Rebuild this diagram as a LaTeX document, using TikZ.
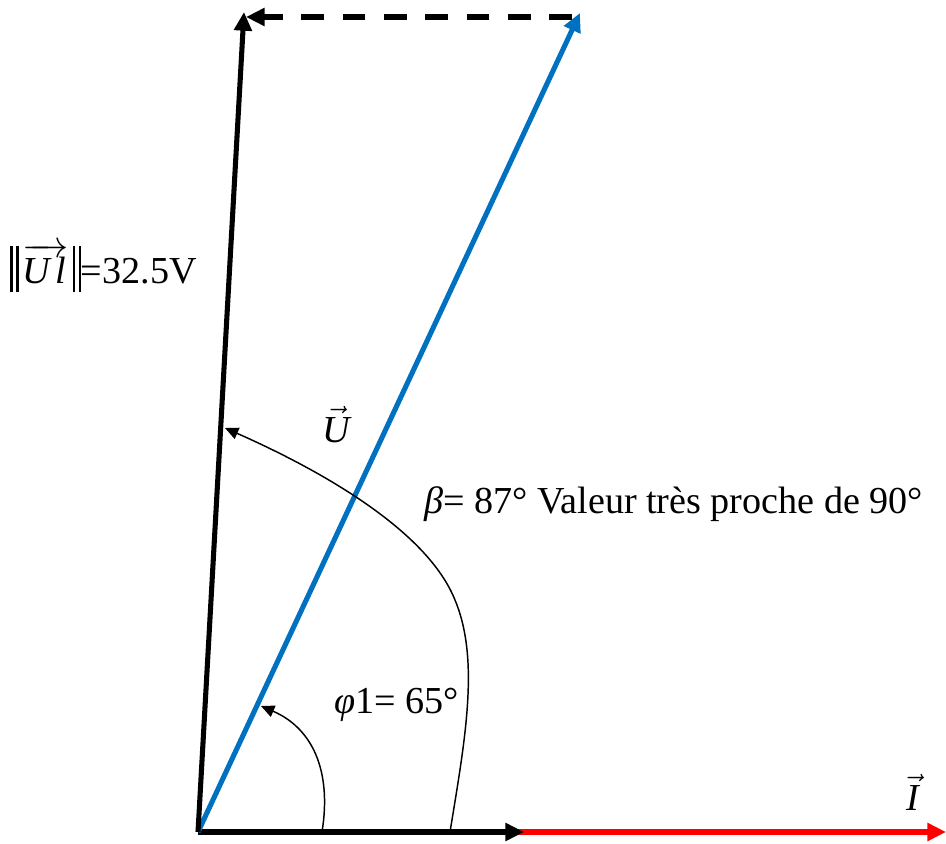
\documentclass[tikz,border=0pt]{standalone}
\usepackage{fix-cm}
\usepackage{fontspec}
\setmainfont{Liberation Serif}
\usetikzlibrary{arrows.meta}
\definecolor{wblue}{RGB}{0,112,192}
\definecolor{wred}{RGB}{255,0,0}
\newcommand{\dblbar}{\rule[-7pt]{1.8pt}{35pt}\hspace{2.6pt}\rule[-7pt]{1.8pt}{35pt}}
\begin{document}
\begin{tikzpicture}[x=0.75pt,y=-0.75pt,
  font=\fontsize{28.6}{34}\selectfont,
  bigvec/.style={line width=3.8pt,-{Triangle[length=14pt,width=13pt]}},
  dashvec/.style={line width=3.8pt,dash pattern=on 17pt off 14pt,-{Triangle[length=14pt,width=13pt]}},
  anglearc/.style={line width=1.1pt,-{Triangle[length=10pt,width=9pt]}},
  lbl/.style={inner sep=0pt}]
\useasboundingbox (0,0) rectangle (946,843);
\coordinate (O) at (198,832);
\coordinate (Ultip) at (244,12);
\coordinate (Utip) at (580,13);
\coordinate (Dstart) at (572,17);
\coordinate (Dend) at (246,17);
\coordinate (Htip) at (524,832);
\coordinate (Itip) at (946,832);
% vectors
\draw[bigvec,wred,line width=4.5pt] (O) -- (Itip);
\draw[bigvec,black] (O) -- (Htip);
\draw[bigvec,wblue] (O) -- (Utip);
\draw[bigvec,black] (O) -- (Ultip);
\draw[dashvec,black] (Dstart) -- (Dend);
% angle arcs
\coordinate (phiA) at (322,832);
\coordinate (phiB) at (261,706);
\draw[anglearc] (phiA) .. controls (332,770) and (312,728) .. (phiB);
\coordinate (betaA) at (450,832);
\coordinate (betaM) at (455,600);
\coordinate (betaB) at (225,428);
\draw[anglearc] (betaA) .. controls (465,740) and (480,660) .. (betaM)
  .. controls (427,530) and (320,470) .. (betaB);
% labels
\node[lbl,anchor=base west] (ullabel) at (10,283) {\dblbar\hspace{3pt}$\overrightarrow{\mbox{\itshape U\hspace{4pt}l\hspace{2pt}}}$\hspace{3pt}\dblbar=32.5V};
\node[lbl,anchor=base] (ulab) at (336,442) {$\vec{\mbox{\itshape U}}$};
\node[lbl,anchor=base] (ilab) at (913,810) {$\vec{\mbox{\itshape I}}$};
\node[lbl,anchor=base west] (betalab) at (424,513) {{\itshape β}= 87° Valeur très proche de 90°};
\node[lbl,anchor=base west] (philab) at (334,713) {{\itshape φ}1= 65°};
\end{tikzpicture}
\end{document}
